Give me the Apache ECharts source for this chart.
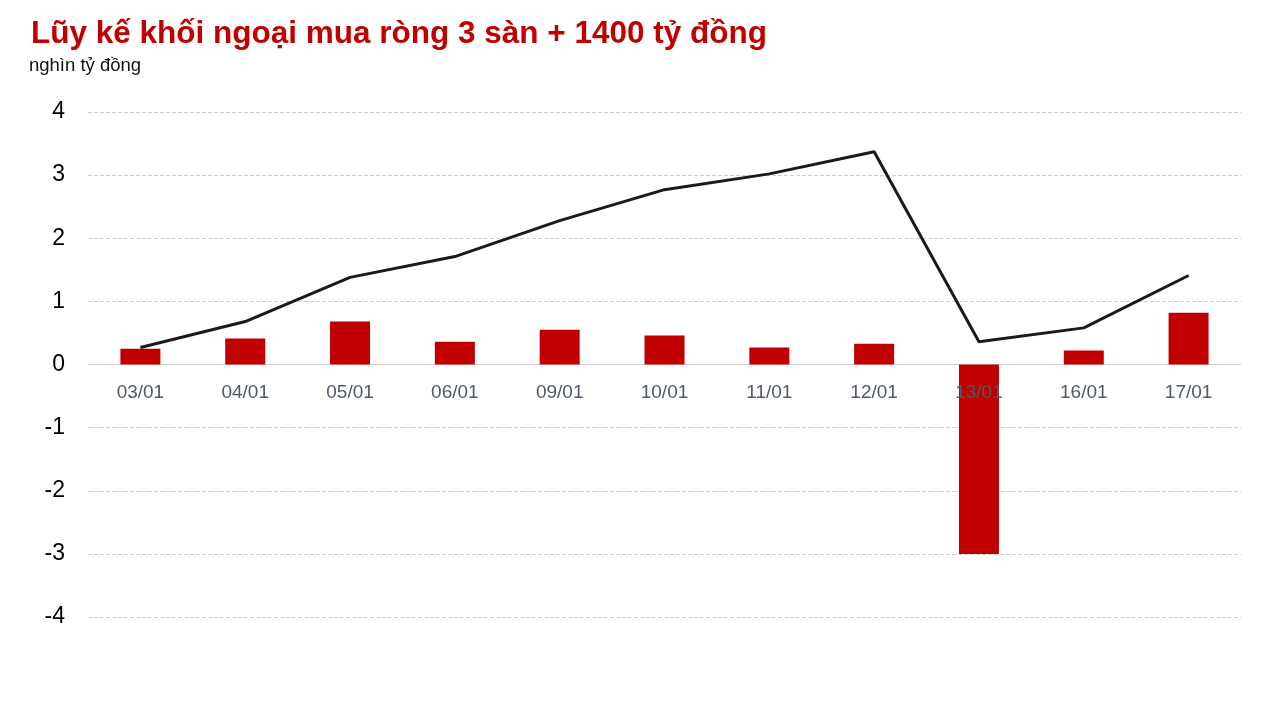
<!DOCTYPE html>
<html>
<head>
<meta charset="utf-8">
<script src="https://cdn.jsdelivr.net/npm/echarts@6/dist/echarts.min.js"></script>
<style>
html,body{margin:0;padding:0;background:#fff;}
#main{width:1281px;height:721px;}
</style>
</head>
<body>
<div id="main"></div>
<script>
var categories = ['03/01','04/01','05/01','06/01','09/01','10/01','11/01','12/01','13/01','16/01','17/01'];
var dailyNet = [0.25,0.41,0.68,0.36,0.55,0.46,0.27,0.33,-3.0,0.22,0.82];
var cumulative = [0.27,0.68,1.38,1.71,2.28,2.77,3.02,3.37,0.36,0.58,1.41];
var yTicks = {min:-4,max:4,step:1};
var titleText = 'Lũy kế khối ngoại mua ròng 3 sàn + 1400 tỷ đồng';
var unitText = 'nghìn tỷ đồng';

var gridTop = 112, gridBottom = 104, plotH = 721 - gridTop - gridBottom;
var zeroY = gridTop + plotH * (yTicks.max - 0) / (yTicks.max - yTicks.min);

var chart = echarts.init(document.getElementById('main'));
chart.setOption({
  animation:false,
  backgroundColor:'#fff',
  title:[
    {text:titleText,left:26,top:13,textStyle:{fontFamily:'Liberation Sans, Arial',fontSize:31.5,fontWeight:'bold',color:'#c00000'}},
    {text:unitText,left:24,top:51,textStyle:{fontFamily:'Liberation Sans, Arial',fontSize:18.5,fontWeight:'normal',color:'#111'}}
  ],
  grid:[
    {left:88,right:40,top:gridTop,bottom:gridBottom,containLabel:false},
    {left:88,right:40,top:zeroY-1,height:1,containLabel:false}
  ],
  xAxis:[
    {
      type:'category',data:categories,gridIndex:0,
      axisLine:{show:true,onZero:true,lineStyle:{color:'#d0d0d0',width:1}},
      axisTick:{show:false},
      axisLabel:{show:false}
    },
    {
      type:'category',data:categories,gridIndex:1,z:10,position:'bottom',
      axisLine:{show:false},axisTick:{show:false},
      axisLabel:{show:true,margin:19,fontFamily:'Liberation Sans, Arial',fontSize:19,color:'#505a66'}
    }
  ],
  yAxis:[
    {
      type:'value',gridIndex:0,min:yTicks.min,max:yTicks.max,interval:yTicks.step,
      axisLine:{show:false},axisTick:{show:false},
      axisLabel:{margin:23,fontFamily:'Liberation Sans, Arial',fontSize:23,color:'#000',padding:[3,0,0,0]},
      splitLine:{show:true,lineStyle:{color:'#d0d0d0',type:'dashed',width:1}}
    },
    {type:'value',gridIndex:1,show:false}
  ],
  series:[
    {type:'bar',data:dailyNet,barWidth:40,itemStyle:{color:'#c00000'},z:2},
    {type:'line',data:cumulative,symbol:'none',lineStyle:{color:'#1a1a1a',width:3},z:5}
  ]
});
</script>
</body>
</html>
